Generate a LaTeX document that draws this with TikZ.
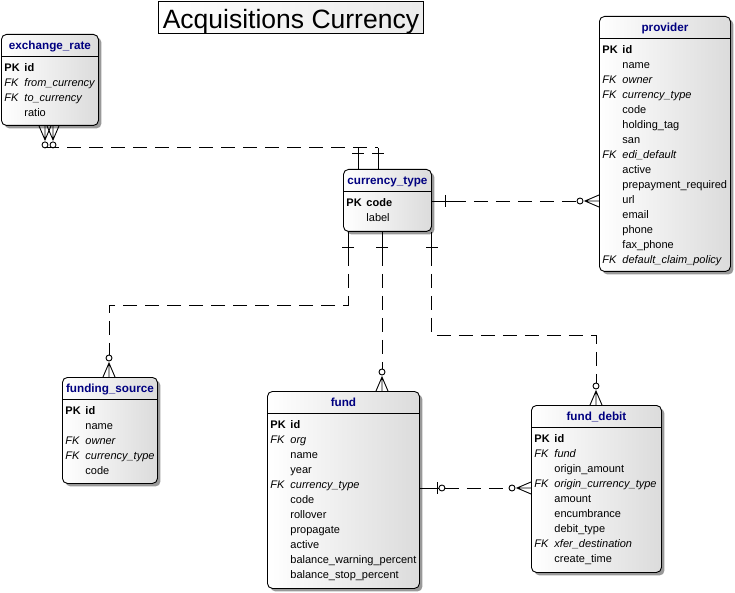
\documentclass[tikz,border=0pt]{standalone}
\usepackage{fontspec}
\setmainfont{Liberation Sans}
\usetikzlibrary{calc,shadows}
\definecolor{hdrblue}{RGB}{0,0,128}
\newcommand\erows[1]{\begin{tabular}{@{}p{20pt}@{}l@{}}#1\end{tabular}}
\newcommand\pkrow[1]{\textbf{PK}&\textbf{#1}\\}
\newcommand\fkrow[1]{\textit{FK}&\textit{#1}\\}
\newcommand\plrow[1]{&#1\\}
\newcommand\zmany[2]{\begin{scope}[shift={(#1)},rotate=#2]
  \draw (0,-6) -- (14,0) -- (0,6) (0,0) -- (14,0);
  \draw (19,0) circle[radius=3];
\end{scope}}
\newcommand\onebar[3]{\begin{scope}[shift={(#1)},rotate=#2]
  \draw (#3,-6) -- (#3,6);
\end{scope}}
\begin{document}
\begin{tikzpicture}[x=1pt,y=-1pt,line width=0.9pt,
  entity/.style={draw, rounded corners=5pt, left color=white, right color=black!14,
    drop shadow={shadow xshift=3pt, shadow yshift=-3pt, fill=black!40, opacity=1},
    inner sep=0pt, anchor=north west},
  hdr/.style={font=\fontsize{11.7}{14}\selectfont\bfseries, text=hdrblue, inner sep=0pt,
    text height=8pt, text depth=0pt, anchor=center},
  body/.style={font=\fontsize{11}{15}\selectfont, inner sep=0pt, anchor=north west, align=left},
  rel/.style={line width=0.9pt},
  dashrel/.style={rel, dash pattern=on 14pt off 8pt}]
\useasboundingbox (0,0) rectangle (735,593);

% title
\node[draw, left color=white, right color=black!8, minimum width=265pt, minimum height=32pt,
  inner sep=0pt, anchor=north west] (title) at (158,1) {};
\node[font=\fontsize{26.5}{30}\selectfont, inner sep=0pt, anchor=base] (titletext)
  at ($(title.south)+(0,-5)$) {Acquisitions Currency};

% entities
\node[entity, minimum width=97pt, minimum height=91pt] (er) at (1,34) {};
\node[entity, minimum width=88pt, minimum height=62pt] (ct) at (343,169) {};
\node[entity, minimum width=131pt, minimum height=255pt] (pv) at (599,16) {};
\node[entity, minimum width=95pt, minimum height=106pt] (fs) at (62,377) {};
\node[entity, minimum width=152pt, minimum height=197pt] (fd) at (267,391) {};
\node[entity, minimum width=130pt, minimum height=167pt] (fdb) at (531,405) {};

% headers
\foreach \e/\t in {er/exchange\_rate, ct/currency\_type, pv/provider, fs/funding\_source, fd/fund, fdb/fund\_debit}{
  \node[hdr] (\e-h) at ($(\e.north)+(0,11.5)$) {\t};
  \draw ($(\e.north west)+(0,22)$) -- ($(\e.north east)+(0,22)$);
}

% bodies
\node[body] (er-b) at ($(er.north west)+(3,26.5)$) {\erows{\pkrow{id}\fkrow{from\_currency}\fkrow{to\_currency}\plrow{ratio}}};
\node[body] (ct-b) at ($(ct.north west)+(3,26.5)$) {\erows{\pkrow{code}\plrow{label}}};
\node[body] (pv-b) at ($(pv.north west)+(3,26.5)$) {\erows{\pkrow{id}\plrow{name}\fkrow{owner}\fkrow{currency\_type}\plrow{code}\plrow{holding\_tag}\plrow{san}\fkrow{edi\_default}\plrow{active}\plrow{prepayment\_required}\plrow{url}\plrow{email}\plrow{phone}\plrow{fax\_phone}\fkrow{default\_claim\_policy}}};
\node[body] (fs-b) at ($(fs.north west)+(3,26.5)$) {\erows{\pkrow{id}\plrow{name}\fkrow{owner}\fkrow{currency\_type}\plrow{code}}};
\node[body] (fd-b) at ($(fd.north west)+(3,26.5)$) {\erows{\pkrow{id}\fkrow{org}\plrow{name}\plrow{year}\fkrow{currency\_type}\plrow{code}\plrow{rollover}\plrow{propagate}\plrow{active}\plrow{balance\_warning\_percent}\plrow{balance\_stop\_percent}}};
\node[body] (fdb-b) at ($(fdb.north west)+(3,26.5)$) {\erows{\pkrow{id}\fkrow{fund}\plrow{origin\_amount}\fkrow{origin\_currency\_type}\plrow{amount}\plrow{encumbrance}\plrow{debit\_type}\fkrow{xfer\_destination}\plrow{create\_time}}};

% ports
\coordinate (er-p1) at ($(er.south west)+(44,0)$);
\coordinate (er-p2) at ($(er.south west)+(52,0)$);
\coordinate (ct-t1) at ($(ct.north west)+(15,0)$);
\coordinate (ct-t2) at ($(ct.north west)+(35,0)$);
\coordinate (ct-r) at ($(ct.north east)+(0,32)$);
\coordinate (pv-l) at ($(pv.north west)+(0,185)$);
\coordinate (ct-b1) at ($(ct.south west)+(5,0)$);
\coordinate (ct-b2) at ($(ct.south west)+(39,0)$);
\coordinate (ct-b3) at ($(ct.south east)+(0,0)$);
\coordinate (fs-t) at ($(fs.north west)+(47,0)$);
\coordinate (fd-t) at ($(fd.north west)+(115,0)$);
\coordinate (fdb-t) at ($(fdb.north west)+(65,0)$);
\coordinate (fd-r) at ($(fd.north east)+(0,97)$);
\coordinate (fdb-l) at ($(fdb.north west)+(0,83)$);

% C1 exchange_rate.from_currency -> currency_type
\zmany{er-p1}{-90}
\coordinate (c1s) at ($(er-p1)+(0,22)$);
\draw[dashrel] (c1s) -- (c1s -| ct-t1);
\draw[rel] (c1s -| ct-t1) -- (ct-t1);
\onebar{ct-t1}{90}{16}
% C2 exchange_rate.to_currency -> currency_type
\zmany{er-p2}{-90}
\coordinate (c2s) at ($(er-p2)+(0,22)$);
\draw[dashrel, dash phase=8pt] (c2s) -- (c2s -| ct-t2);
\draw[rel] (c2s -| ct-t2) -- (ct-t2);
\onebar{ct-t2}{90}{16}
% C3 currency_type -> provider
\draw[rel] (ct-r) -- ($(ct-r)+(20,0)$);
\onebar{ct-r}{0}{14}
\draw[dashrel] ($(ct-r)+(20,0)$) -- ($(pv-l)+(-22,0)$);
\zmany{pv-l}{180}
% C4 currency_type -> funding_source
\draw[rel] (ct-b1) -- ($(ct-b1)+(0,20)$);
\onebar{ct-b1}{-90}{16}
\draw[dashrel] ($(ct-b1)+(0,20)$) |- ($(fs-t)+(0,-72)$) -- ($(fs-t)+(0,-22)$);
\zmany{fs-t}{90}
% C5 currency_type -> fund
\draw[rel] (ct-b2) -- ($(ct-b2)+(0,20)$);
\onebar{ct-b2}{-90}{16}
\draw[dashrel] ($(ct-b2)+(0,20)$) -- ($(fd-t)+(0,-22)$);
\zmany{fd-t}{90}
% C6 currency_type -> fund_debit
\draw[rel] (ct-b3) -- ($(ct-b3)+(0,20)$);
\onebar{ct-b3}{-90}{16}
\draw[dashrel] ($(ct-b3)+(0,20)$) |- ($(fdb-t)+(0,-70)$) -- ($(fdb-t)+(0,-22)$);
\zmany{fdb-t}{90}
% C7 fund -> fund_debit
\draw[rel] (fd-r) -- ($(fd-r)+(19,0)$);
\onebar{fd-r}{0}{18}
\draw ($(fd-r)+(22,0)$) circle[radius=3];
\draw[dashrel] ($(fd-r)+(25,0)$) -- ($(fdb-l)+(-22,0)$);
\zmany{fdb-l}{180}
\end{tikzpicture}
\end{document}
